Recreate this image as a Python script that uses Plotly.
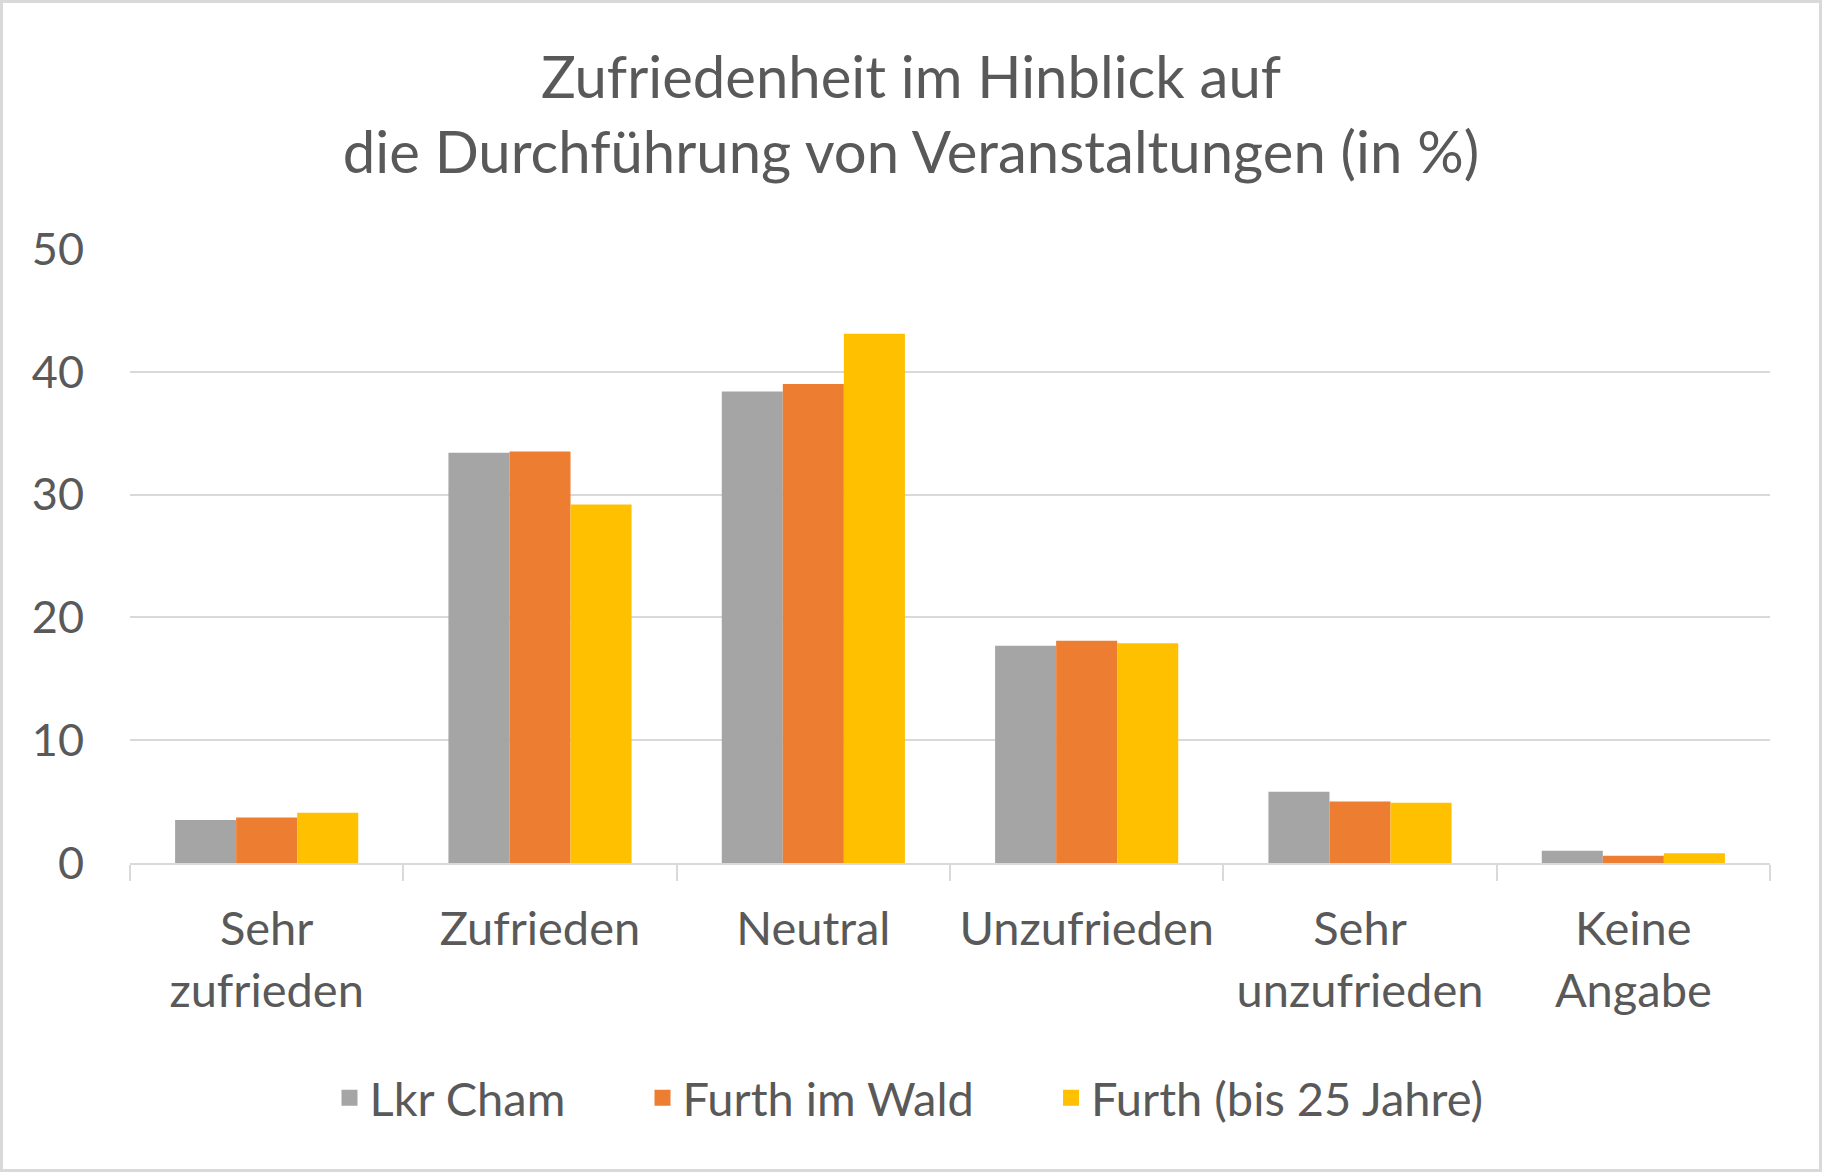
import plotly.graph_objects as go

categories = ["Sehr<br>zufrieden", "Zufrieden", "Neutral", "Unzufrieden", "Sehr<br>unzufrieden", "Keine<br>Angabe"]
lkr_cham = [3.5, 33.4, 38.4, 17.7, 5.8, 1.0]
furth_wald = [3.7, 33.5, 39.0, 18.1, 5.0, 0.6]
furth_25 = [4.1, 29.2, 43.1, 17.9, 4.9, 0.8]
series_names = ["Lkr Cham", "Furth im Wald", "Furth (bis 25 Jahre)"]
colors = ["#A5A5A5", "#ED7D31", "#FFC000"]
y_ticks = [0, 10, 20, 30, 40, 50]

W, H = 1822, 1172
ML, MR, MT, MB = 130, 52, 249, 309
FONT = "Lato"
TXT = "#595959"
PAD = "\u00a0" * 6

fig = go.Figure()
for i, (name, vals, col) in enumerate(zip(series_names, [lkr_cham, furth_wald, furth_25], colors)):
    fig.add_trace(go.Bar(x=categories, y=vals, name=name, marker_color=col,
                         marker_line_width=0, legendgroup=name, showlegend=False))
    label = name + (PAD if i < len(series_names) - 1 else "")
    fig.add_trace(go.Scatter(x=[categories[0]], y=[None], name=label, mode="markers",
                             marker=dict(symbol="square", size=16, color=col),
                             legendgroup=name, showlegend=True, hoverinfo="skip"))

pw = W - ML - MR
ph = H - MT - MB
bx0 = (1.5 - ML) / pw
bx1 = (W - 1.5 - ML) / pw
by1 = (H - MB - 1.5) / ph
by0 = (H - MB - (H - 1.5)) / ph

fig.update_layout(
    width=W, height=H,
    margin=dict(l=ML, r=MR, t=MT, b=MB),
    paper_bgcolor="white", plot_bgcolor="white",
    font=dict(family=FONT, color=TXT, size=46),
    title=dict(text="Zufriedenheit im Hinblick auf<br>die Durchführung von Veranstaltungen (in %)",
               x=0.5, xanchor="center", y=1 - 98 / H, yanchor="middle",
               font=dict(family=FONT, size=58, color=TXT)),
    barmode="group", bargap=0.33, bargroupgap=0,
    showlegend=True,
    legend=dict(orientation="h", x=0.475, xanchor="center", y=-0.383, yanchor="middle",
                font=dict(family=FONT, size=47, color=TXT), itemwidth=30,
                itemsizing="trace", tracegroupgap=0, traceorder="normal"),
    shapes=[dict(type="rect", xref="paper", yref="paper", x0=bx0, x1=bx1, y0=by0, y1=by1,
                 line=dict(color="#D9D9D9", width=3), fillcolor="rgba(0,0,0,0)", layer="below")],
)
fig.update_yaxes(range=[0, 50], tickvals=y_ticks, showgrid=True, gridcolor="#D9D9D9", gridwidth=2,
                 zeroline=False, showline=False, ticks="", ticklabelstandoff=45,
                 tickfont=dict(family=FONT, size=45, color=TXT))
fig.update_xaxes(showline=True, linecolor="#D9D9D9", linewidth=2, ticks="outside", tickson="boundaries",
                 ticklen=16, tickcolor="#D9D9D9", tickwidth=2, ticklabelstandoff=24,
                 tickfont=dict(family=FONT, size=47, color=TXT))

fig.write_html("out.html", config={"displayModeBar": False},
               post_script="document.body.style.margin='0';")
